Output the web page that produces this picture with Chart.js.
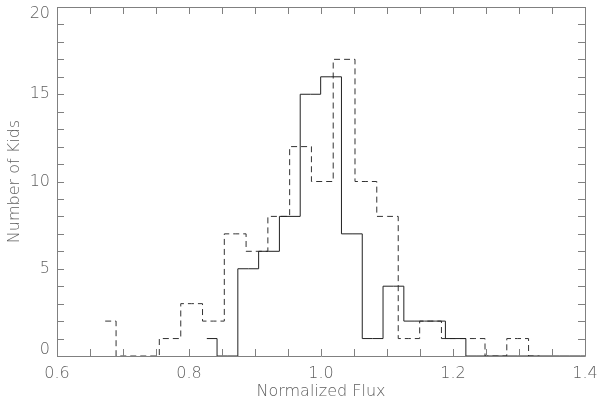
<!DOCTYPE html>
<html>
<head>
<meta charset="utf-8">
<script src="https://cdn.jsdelivr.net/npm/chart.js@4.4.1/dist/chart.umd.min.js"></script>
<style>
  body { margin: 0; background: #fff; }
  #wrap { width: 600px; height: 400px; }
</style>
</head>
<body>
<div id="wrap"><canvas id="mycanvas" width="600" height="400"></canvas></div>
<script>
// histogram bin centres and counts
var solidX = [0.827, 0.858, 0.890, 0.921, 0.953, 0.984, 1.015, 1.047, 1.078, 1.110,
              1.141, 1.173, 1.204, 1.235, 1.267, 1.298, 1.330, 1.361, 1.393, 1.424];
var solidCounts = [1, 0, 5, 6, 8, 15, 16, 7, 1, 4,
                   2, 2, 1, 0, 0, 0, 0, 0, 0, 0];

var dashedX = [0.673, 0.706, 0.739, 0.771, 0.804, 0.837, 0.870, 0.903, 0.936, 0.969,
               1.002, 1.035, 1.068, 1.101, 1.133, 1.166, 1.199, 1.232, 1.265, 1.298, 1.331];
var dashedCounts = [2, 0, 0, 1, 3, 2, 7, 6, 8, 12,
                    10, 17, 10, 8, 1, 2, 1, 1, 0, 1, 0];

var xTicks = [0.6, 0.8, 1.0, 1.2, 1.4];
var yTicks = [0, 5, 10, 15, 20];

var axisColor = '#808080';
var textColor = '#606060';
var fontFamily = '"DejaVu Sans", sans-serif';

function toPoints(xs, ys) {
  var pts = [];
  for (var i = 0; i < xs.length; i++) {
    pts.push({ x: xs[i], y: ys[i] });
  }
  return pts;
}

// IDL style box with inward ticks on all four sides
var boxPlugin = {
  id: 'idlBox',
  beforeDraw: function(chart) {
    // keep the end labels of the y axis inside the box, as IDL does
    var ys = chart.scales.y;
    var items = ys.getLabelItems(chart.chartArea);
    if (items.length) {
      items[0].options.translation[1] -= 6;
      items[items.length - 1].options.translation[1] += 7;
    }
  },
  afterDatasetsDraw: function(chart) {
    var ctx = chart.ctx;
    var a = chart.chartArea;
    var xs = chart.scales.x, ys = chart.scales.y;
    var len = 7;
    ctx.save();
    ctx.strokeStyle = axisColor;
    ctx.lineWidth = 1;
    ctx.beginPath();
    ctx.rect(Math.round(a.left) + 0.5, Math.round(a.top) + 0.5,
             Math.round(a.right - a.left), Math.round(a.bottom - a.top));
    ctx.stroke();
    ctx.beginPath();
    var v, p;
    for (var i = 0; i <= 16; i++) {
      v = 0.6 + i * 0.05;
      p = Math.round(xs.getPixelForValue(v)) + 0.5;
      ctx.moveTo(p, a.bottom); ctx.lineTo(p, a.bottom - len);
      ctx.moveTo(p, a.top); ctx.lineTo(p, a.top + len);
    }
    for (var j = 0; j <= 20; j++) {
      p = Math.round(ys.getPixelForValue(j)) + 0.5;
      ctx.moveTo(a.left, p); ctx.lineTo(a.left + len, p);
      ctx.moveTo(a.right, p); ctx.lineTo(a.right - len, p);
    }
    ctx.stroke();
    ctx.restore();
  }
};

var ctx = document.getElementById('mycanvas');
var myChart = new Chart(ctx, {
  type: 'line',
  data: {
    datasets: [{
      label: 'solid',
      data: toPoints(solidX, solidCounts),
      stepped: 'middle',
      borderColor: '#222222',
      borderWidth: 1,
      pointRadius: 0,
      fill: false
    }, {
      label: 'dashed',
      data: toPoints(dashedX, dashedCounts),
      stepped: 'middle',
      borderColor: '#333333',
      borderWidth: 1,
      borderDash: [6, 4],
      pointRadius: 0,
      fill: false
    }]
  },
  options: {
    responsive: false,
    animation: false,
    layout: { padding: { top: 7, right: 15, left: 0, bottom: 0 } },
    plugins: {
      legend: { display: false },
      tooltip: { enabled: false },
      title: { display: false }
    },
    scales: {
      x: {
        type: 'linear',
        min: 0.6,
        max: 1.4,
        afterBuildTicks: function(scale) {
          scale.ticks = xTicks.map(function(v) { return { value: v }; });
        },
        afterFit: function(scale) {
          scale.height = 44;
          scale.paddingLeft = 0;
          scale.paddingRight = 0;
        },
        border: { display: false },
        grid: { display: false, drawTicks: false },
        ticks: {
          padding: 8,
          color: textColor,
          font: { family: fontFamily, size: 16, weight: '200' },
          maxRotation: 0,
          autoSkip: false,
          callback: function(v) { return v.toFixed(1); }
        },
        title: {
          display: true,
          text: 'Normalized Flux',
          color: textColor,
          font: { family: fontFamily, size: 16, weight: '200', lineHeight: 1.0 },
          padding: { top: 0, bottom: 0 }
        }
      },
      y: {
        type: 'linear',
        min: 0,
        max: 20,
        afterBuildTicks: function(scale) {
          scale.ticks = yTicks.map(function(v) { return { value: v }; });
        },
        afterFit: function(scale) {
          scale.width = 57;
          scale.paddingTop = 0;
          scale.paddingBottom = 0;
        },
        border: { display: false },
        grid: { display: false, drawTicks: false },
        ticks: {
          padding: 7,
          color: textColor,
          font: { family: fontFamily, size: 16, weight: '200' },
          autoSkip: false
        },
        title: {
          display: true,
          text: 'Number of Kids',
          color: textColor,
          font: { family: fontFamily, size: 16, weight: '200', lineHeight: 1.0 },
          padding: { top: 7, bottom: 0 }
        }
      }
    }
  },
  plugins: [boxPlugin]
});
</script>
</body>
</html>
